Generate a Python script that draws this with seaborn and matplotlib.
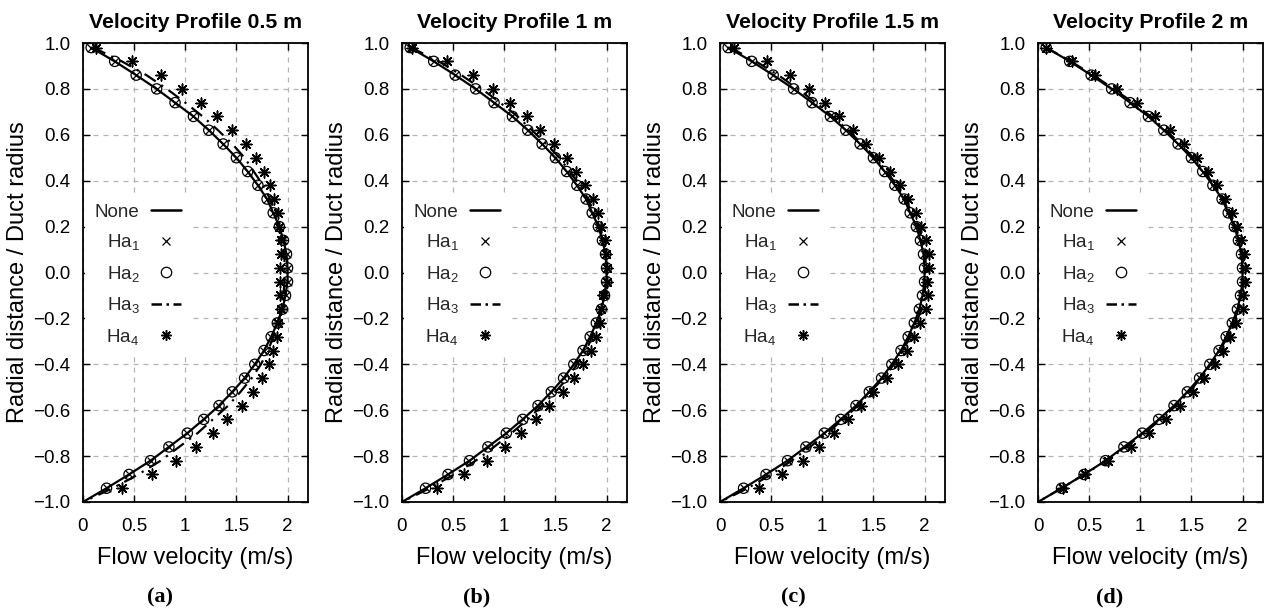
import matplotlib
matplotlib.use("Agg")
import matplotlib.pyplot as plt
import seaborn as sns
import pandas as pd
from matplotlib.lines import Line2D

# ---------------- data ----------------
radial_pos = [0.98, 0.92, 0.86, 0.80, 0.74, 0.68, 0.62, 0.56, 0.50, 0.44, 0.38,
              0.32, 0.26, 0.20, 0.14, 0.08, 0.02, -0.04, -0.10, -0.16, -0.22, -0.28,
              -0.34, -0.40, -0.46, -0.52, -0.58, -0.64, -0.70, -0.76, -0.82, -0.88, -0.94]
wall_pos = -1.0
wall_vel = 0.0

v_none = [0.08, 0.31, 0.52, 0.72, 0.90, 1.08, 1.23, 1.37, 1.50, 1.61, 1.71,
          1.80, 1.86, 1.92, 1.96, 1.99, 2.00, 2.00, 1.98, 1.95, 1.90, 1.84,
          1.77, 1.68, 1.58, 1.46, 1.33, 1.18, 1.02, 0.84, 0.66, 0.45, 0.23]

# Ha1 and Ha2 sit on top of the "None" profile in every panel
v_ha1 = v_none
v_ha2 = v_none

v_ha3_a = [0.10, 0.38, 0.62, 0.82, 1.00, 1.17, 1.32, 1.46, 1.58, 1.67, 1.76,
           1.83, 1.88, 1.92, 1.95, 1.97, 1.97, 1.97, 1.96, 1.95, 1.90, 1.86,
           1.81, 1.74, 1.65, 1.54, 1.42, 1.27, 1.12, 0.94, 0.76, 0.54, 0.29]
v_ha4_a = [0.13, 0.48, 0.76, 0.97, 1.15, 1.31, 1.46, 1.59, 1.69, 1.77, 1.83,
           1.87, 1.91, 1.92, 1.94, 1.94, 1.93, 1.93, 1.93, 1.94, 1.91, 1.90,
           1.86, 1.82, 1.75, 1.66, 1.55, 1.41, 1.27, 1.10, 0.91, 0.67, 0.38]

v_ha3_b = [0.09, 0.36, 0.58, 0.78, 0.96, 1.13, 1.27, 1.41, 1.54, 1.64, 1.74,
           1.82, 1.88, 1.93, 1.97, 1.99, 2.00, 2.00, 1.98, 1.95, 1.91, 1.86,
           1.80, 1.71, 1.62, 1.50, 1.37, 1.23, 1.07, 0.90, 0.72, 0.51, 0.27]
v_ha4_b = [0.10, 0.44, 0.69, 0.89, 1.06, 1.22, 1.35, 1.49, 1.61, 1.70, 1.79,
           1.87, 1.92, 1.95, 1.98, 1.99, 2.00, 2.00, 1.97, 1.95, 1.94, 1.90,
           1.85, 1.77, 1.68, 1.57, 1.44, 1.31, 1.16, 1.01, 0.83, 0.61, 0.34]

v_ha3_c = [0.10, 0.35, 0.57, 0.76, 0.94, 1.10, 1.25, 1.39, 1.52, 1.63, 1.73,
           1.81, 1.88, 1.94, 1.98, 2.01, 2.01, 2.01, 2.00, 1.97, 1.92, 1.86,
           1.79, 1.70, 1.60, 1.47, 1.35, 1.20, 1.05, 0.88, 0.70, 0.50, 0.27]
v_ha4_c = [0.14, 0.46, 0.68, 0.87, 1.03, 1.16, 1.30, 1.43, 1.55, 1.66, 1.76,
           1.84, 1.92, 1.97, 2.01, 2.04, 2.04, 2.02, 2.03, 2.01, 1.96, 1.90,
           1.83, 1.74, 1.63, 1.50, 1.38, 1.25, 1.11, 0.97, 0.81, 0.61, 0.38]

v_ha3_d = [0.08, 0.32, 0.54, 0.74, 0.93, 1.10, 1.25, 1.39, 1.52, 1.63, 1.72,
           1.81, 1.87, 1.93, 1.97, 2.00, 2.01, 2.01, 1.99, 1.96, 1.91, 1.85,
           1.78, 1.69, 1.59, 1.48, 1.35, 1.20, 1.04, 0.86, 0.67, 0.45, 0.23]
v_ha4_d = [0.08, 0.33, 0.56, 0.77, 0.97, 1.14, 1.29, 1.43, 1.55, 1.66, 1.75,
           1.83, 1.90, 1.95, 1.98, 2.01, 2.02, 2.02, 2.00, 2.00, 1.94, 1.88,
           1.81, 1.73, 1.62, 1.52, 1.39, 1.25, 1.09, 0.91, 0.68, 0.46, 0.24]

titles = ["Velocity Profile 0.5 m", "Velocity Profile 1 m",
          "Velocity Profile 1.5 m", "Velocity Profile 2 m"]
panel_tags = ["(a)", "(b)", "(c)", "(d)"]
series_labels = ["None", "Ha$_1$", "Ha$_2$", "Ha$_3$", "Ha$_4$"]
x_ticks = [0, 0.5, 1, 1.5, 2]
x_tick_labels = ["0", "0.5", "1", "1.5", "2"]
y_ticks = [1.0, 0.8, 0.6, 0.4, 0.2, 0.0, -0.2, -0.4, -0.6, -0.8, -1.0]
y_tick_labels = ["1.0", "0.8", "0.6", "0.4", "0.2", "0.0",
                 "\u22120.2", "\u22120.4", "\u22120.6", "\u22120.8", "\u22121.0"]
x_label = "Flow velocity (m/s)"
y_label = "Radial distance / Duct radius"

ha3_sets = [v_ha3_a, v_ha3_b, v_ha3_c, v_ha3_d]
ha4_sets = [v_ha4_a, v_ha4_b, v_ha4_c, v_ha4_d]

# ---------------- style ----------------
sns.set_theme(style="ticks")
plt.rcParams["font.family"] = ["Liberation Sans", "DejaVu Sans"]
plt.rcParams["mathtext.fontset"] = "custom"
plt.rcParams["mathtext.rm"] = "Liberation Sans"
plt.rcParams["mathtext.it"] = "Liberation Sans:italic"
plt.rcParams["axes.unicode_minus"] = True

W, H = 1264, 614
fig = plt.figure(figsize=(W / 100, H / 100), dpi=100)

ax_lefts = [83, 402, 720, 1038]
ax_w, ax_top, ax_bot = 225, 43, 502
tag_centers = [160, 477, 793, 1110]

asterisk = (8, 2, 0)
dashdot = (0, (6, 3, 1, 3))
dashdot_key = (0, (4.2, 1.8, 1, 1.8))

for i in range(4):
    ax = fig.add_axes([ax_lefts[i] / W, (H - ax_bot) / H, ax_w / W, (ax_bot - ax_top) / H])
    line_df = pd.DataFrame({"v": v_none + [wall_vel], "r": radial_pos + [wall_pos]})
    ha3_df = pd.DataFrame({"v": ha3_sets[i] + [wall_vel], "r": radial_pos + [wall_pos]})

    sns.lineplot(data=line_df, x="v", y="r", sort=False, estimator=None,
                 color="black", linewidth=1.6, ax=ax, zorder=3)
    sns.scatterplot(x=v_ha1, y=radial_pos, marker="x", s=30, color="black",
                    edgecolor="black", linewidth=0.9, ax=ax, zorder=4)
    sns.scatterplot(x=v_ha2, y=radial_pos, marker="o", s=55, color="black",
                    facecolor="none", edgecolor="black", linewidth=0.9, ax=ax, zorder=4)
    sns.lineplot(data=ha3_df, x="v", y="r", sort=False, estimator=None,
                 color="black", linewidth=1.6, linestyle=dashdot, ax=ax, zorder=3)
    sns.scatterplot(x=ha4_sets[i], y=radial_pos, marker=asterisk, s=62, color="black",
                    edgecolor="black", linewidth=1.1, ax=ax, zorder=4)

    ax.set_xlim(0, 2.2)
    ax.set_ylim(-1.0, 1.0)
    ax.set_xticks(x_ticks)
    ax.set_xticklabels(x_tick_labels)
    ax.set_yticks(y_ticks)
    ax.set_yticklabels(y_tick_labels)
    ax.tick_params(direction="in", top=True, right=True, length=5, width=1.0,
                   labelsize=13.5, colors="black")
    ax.tick_params(axis="y", pad=9)
    ax.tick_params(axis="x", pad=11.5)
    ax.grid(True, color="#b4b4b4", linestyle=(0, (4, 4)), linewidth=0.9, zorder=0)
    ax.set_axisbelow(True)
    for sp in ax.spines.values():
        sp.set_color("black")
        sp.set_linewidth(1.3)
    ax.set_xlabel(x_label, fontsize=17, labelpad=9, color="black")
    ax.set_ylabel(y_label, fontsize=17, labelpad=3, color="black")
    ax.set_title(titles[i], fontsize=15.3, fontweight="bold", pad=11, color="black")

    handles = [
        Line2D([], [], color="black", linewidth=1.8),
        Line2D([], [], color="black", linestyle="none", marker="x", markersize=5.5,
               markeredgewidth=0.9),
        Line2D([], [], color="black", linestyle="none", marker="o", markersize=7.5,
               markerfacecolor="none", markeredgewidth=0.9),
        Line2D([], [], color="black", linewidth=1.8, linestyle=dashdot_key),
        Line2D([], [], color="black", linestyle="none", marker=asterisk, markersize=7.5,
               markeredgewidth=1.1),
    ]
    leg = ax.legend(handles, series_labels, loc="upper right", bbox_to_anchor=(0.476, 0.671),
                    markerfirst=False, frameon=True, fancybox=False, framealpha=1.0,
                    facecolor="white", edgecolor="none", fontsize=13.5, handlelength=1.6,
                    handletextpad=0.6, labelspacing=0.62, borderpad=0.5, borderaxespad=0)
    leg.set_zorder(5)

    fig.text(tag_centers[i] / W, 1 - 597 / H, panel_tags[i], ha="center", va="center",
             fontsize=16, fontweight="bold", family="Liberation Serif", color="black")

fig.savefig("out.png", dpi=100)
